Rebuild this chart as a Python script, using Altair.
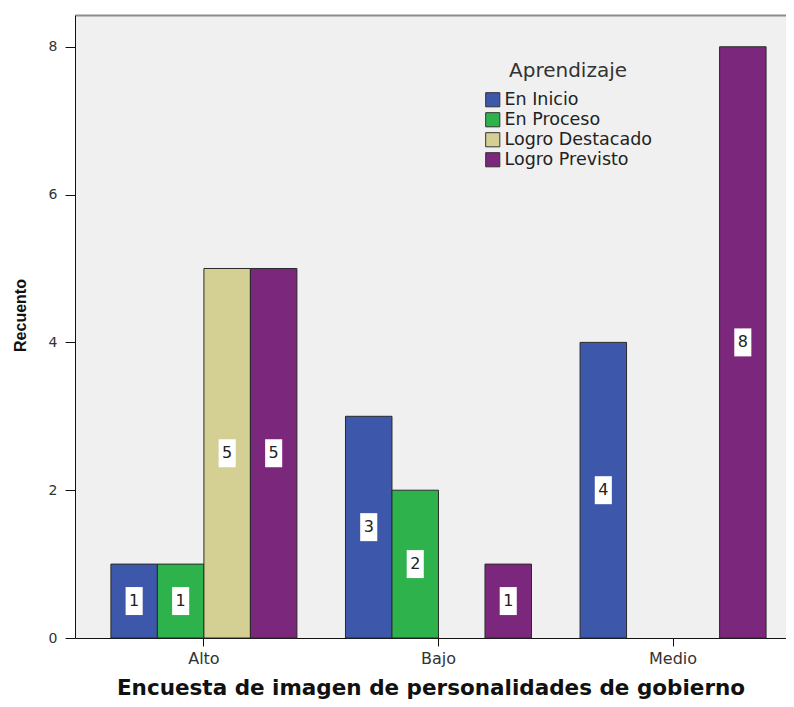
import altair as alt
import pandas as pd

# ---- data ----
groups = ["Alto", "Alto", "Alto", "Alto", "Bajo", "Bajo", "Bajo", "Medio", "Medio"]
levels = ["En Inicio", "En Proceso", "Logro Destacado", "Logro Previsto",
          "En Inicio", "En Proceso", "Logro Previsto",
          "En Inicio", "Logro Previsto"]
counts = [1, 1, 5, 5, 3, 2, 1, 4, 8]

group_order = ["Alto", "Bajo", "Medio"]
level_order = ["En Inicio", "En Proceso", "Logro Destacado", "Logro Previsto"]
level_colors = ["#3d57ab", "#2eb24b", "#d4cf93", "#7b287c"]
y_ticks = [0, 2, 4, 6, 8]

df = pd.DataFrame({"grupo": groups, "nivel": levels, "recuento": counts})

FONT = "DejaVu Sans"

x_scale = alt.Scale(domain=group_order, paddingInner=0.207, paddingOuter=0.119, align=0.643)
off_scale = alt.Scale(domain=level_order, paddingInner=0, paddingOuter=0)
y_scale = alt.Scale(domain=[0, 8.43], nice=False, zero=True)
color_scale = alt.Scale(domain=level_order, range=level_colors)

y_axis = alt.Axis(title="Recuento", values=y_ticks, grid=False, ticks=True,
                  labelFont=FONT, labelFontSize=14, labelColor="#333333",
                  labelPadding=8, tickSize=10, tickColor="#111111", tickWidth=1,
                  domainColor="#111111", domainWidth=1,
                  titleFont="Liberation Sans", titleFontSize=16, titleFontWeight="bold",
                  titleColor="#111111", titleX=-47, titleY=300, titleAngle=270,
                  titleBaseline="bottom", titleAlign="center")

base = alt.Chart(df).transform_calculate(mid="datum.recuento / 2")

bars = base.mark_bar(stroke="#2a2a2a", strokeWidth=1, opacity=1).encode(
    x=alt.X("grupo:N", scale=x_scale, sort=group_order,
            axis=alt.Axis(title="Encuesta de imagen de personalidades de gobierno",
                          labelAngle=0, labelFont=FONT, labelFontSize=16, labelColor="#333333",
                          labelPadding=4, ticks=True, tickSize=8, tickColor="#111111",
                          tickWidth=1, domainColor="#111111", domainWidth=1,
                          titleFont=FONT, titleFontSize=21.5, titleFontWeight="bold",
                          titleColor="#111111", titlePadding=11)),
    xOffset=alt.XOffset("nivel:N", scale=off_scale, sort=level_order),
    y=alt.Y("recuento:Q", scale=y_scale, axis=y_axis),
    color=alt.Color("nivel:N", scale=color_scale, sort=level_order,
                    legend=alt.Legend(title="Aprendizaje", orient="none", legendX=409, legendY=46,
                                      titleFont=FONT, titleFontSize=20, titleFontWeight="normal",
                                      titleColor="#333333", titleAnchor="middle", titlePadding=10,
                                      labelFont=FONT, labelFontSize=17.5, labelColor="#222222",
                                      labelOffset=3, symbolType="square", symbolSize=200,
                                      symbolStrokeColor="#333333", symbolStrokeWidth=1,
                                      symbolOpacity=1, rowPadding=1, padding=0)),
)

boxes = base.mark_point(
    shape="M-0.61,-1H0.61V1H-0.61Z", size=784, filled=True, fill="white",
    opacity=1, strokeWidth=0,
).encode(
    x=alt.X("grupo:N", scale=x_scale, sort=group_order, axis=None),
    xOffset=alt.XOffset("nivel:N", scale=off_scale, sort=level_order),
    y=alt.Y("mid:Q", scale=y_scale, axis=y_axis),
)

labels = base.mark_text(
    font=FONT, fontSize=16, color="#222222", baseline="middle", align="center",
).encode(
    x=alt.X("grupo:N", scale=x_scale, sort=group_order,
            axis=alt.Axis(orient="top", labels=False, ticks=False, title=None,
                          domainColor="#8c8c8c", domainWidth=2)),
    xOffset=alt.XOffset("nivel:N", scale=off_scale, sort=level_order),
    y=alt.Y("mid:Q", scale=y_scale, axis=y_axis),
    text=alt.Text("recuento:Q"),
)

chart = alt.layer(bars, boxes, labels).resolve_axis(x="independent").properties(
    width=711, height=623,
    autosize=alt.AutoSizeParams(type="none"),
    padding={"left": 67, "top": 7, "right": 0, "bottom": 61},
    background="white",
).configure_view(fill="#f0f0f0", stroke=None)

chart.save("out.html", embed_options={"renderer": "svg", "actions": False})
